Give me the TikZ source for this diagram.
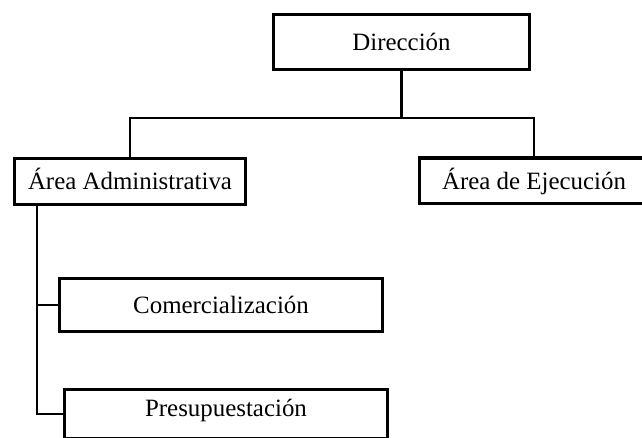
\documentclass[tikz,border=0pt]{standalone}
\usepackage{fontspec}
\setmainfont{Liberation Serif}
\begin{document}
\begin{tikzpicture}[x=1pt,y=-1pt,
  box/.style={draw=black, line width=3.4pt, rectangle, inner sep=0pt,
    font=\fontsize{24.9}{30}\selectfont, text height=17pt, text depth=0pt},
  link/.style={draw=black, line width=2.2pt}]
\useasboundingbox (0,0) rectangle (642,438);
\clip (0,0) rectangle (642,438);

% organisational units
\node[box, minimum width=255.6pt, minimum height=54.6pt] (dir) at (401.5,42) {Dirección};
\node[box, minimum width=230.6pt, minimum height=45.6pt] (admin) at (130,181.5) {Área Administrativa};
\node[box, minimum width=228.6pt, minimum height=45.6pt] (ejec) at (534,181) {Área de Ejecución};
\node[box, minimum width=322.6pt, minimum height=52.6pt] (comer) at (221,305) {Comercialización};
\node[box, minimum width=322.6pt, minimum height=48.6pt, text depth=13pt] (presu) at (226,414) {Presupuestación};

% top-level branches
\coordinate (hub) at (401.5,118);
\draw[link] (dir.south) -- (hub);
\draw[link] (admin.north) |- (hub) -| (ejec.north);

% administrative sub-units
\coordinate (trunk) at (37,205);
\draw[link] (trunk) |- (comer.west);
\draw[link] (trunk) |- (presu.west);
\end{tikzpicture}
\end{document}
